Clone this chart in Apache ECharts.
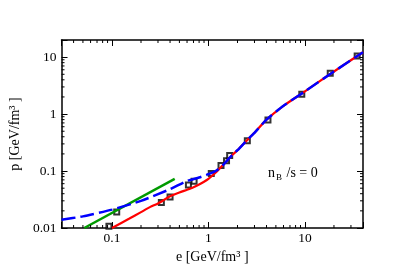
<!DOCTYPE html>
<html><head><meta charset="utf-8">
<script src="https://cdn.jsdelivr.net/npm/echarts@6/dist/echarts.min.js"></script>
<style>html,body{margin:0;padding:0;background:#fff}#c{width:414px;height:273px}</style>
</head><body><div id="c"></div>
<script>
// lattice EoS (red solid)
const redE = [0.1,0.15,0.2,0.25,0.3,0.4,0.5,0.6,0.7,0.8,0.9,1.0,1.2,1.4,1.6,1.8,2.0,2.5,3,4,6,10,20,40];
const redP = [0.0100,0.0145,0.019,0.0235,0.027,0.036,0.042,0.047,0.052,0.058,0.065,0.073,0.095,0.125,0.16,0.197,0.232,0.345,0.47,0.80,1.40,2.50,5.6,12.2];
// blue dashed
const blueE = [0.03,0.05,0.1,0.2,0.4,0.6,0.8,1.0,1.2,1.4,1.6,1.8,2.0,2.5,3,4,6,10,20,40];
const blueP = [0.014,0.016,0.021,0.030,0.048,0.067,0.077,0.088,0.101,0.125,0.16,0.197,0.232,0.345,0.47,0.80,1.40,2.50,5.6,12.2];
// green straight line
const greenE = [0.0516,0.447];
const greenP = [0.0100,0.073];
// squares
const sqE = [0.093,0.112,0.325,0.40,0.62,0.71,1.07,1.35,1.54,1.66,2.53,4.14,9.28,18.3,34.8];
const sqP = [0.0107,0.019,0.028,0.035,0.057,0.066,0.091,0.125,0.152,0.188,0.34,0.79,2.24,5.2,10.5];
// axes
const xMin = 0.03, xMax = 40, yMin = 0.01, yMax = 20;
const tickLabels = {'-2':'0.01','-1':'0.1','0':'1','1':'10'};
const xMinor = [0.04,0.05,0.06,0.07,0.08,0.09,0.2,0.3,0.4,0.5,0.6,0.7,0.8,0.9,2,3,4,5,6,7,8,9,20,30];
const yMinor = [0.02,0.03,0.04,0.05,0.06,0.07,0.08,0.09,0.2,0.3,0.4,0.5,0.6,0.7,0.8,0.9,2,3,4,5,6,7,8,9];

const FONT = '"Liberation Serif","DejaVu Serif",serif';
const zip = (a,b)=>a.map((v,i)=>[v,b[i]]);
function fmt(v){const l=Math.log10(v);const r=Math.round(l);return Math.abs(l-r)<1e-6 && tickLabels[String(r)]!==undefined ? tickLabels[String(r)] : '';}
const axisCommon = {
  type:'log', logBase:10, splitNumber:3,
  axisLine:{show:true,onZero:false,lineStyle:{color:'#000',width:1.5}},
  axisTick:{show:true,inside:true,length:6,lineStyle:{color:'#000',width:1}},
  splitLine:{show:false}, minorTick:{show:false}
};
const chart = echarts.init(document.getElementById('c'),null,{renderer:'canvas'});
chart.setOption({
  animation:false,
  grid:{left:47,right:51,top:40,bottom:45,containLabel:false},
  xAxis:[
    Object.assign({},axisCommon,{min:xMin,max:xMax,position:'bottom',
      name:'e [GeV/fm³ ]',nameLocation:'middle',nameGap:13,
      nameTextStyle:{fontFamily:FONT,fontSize:14,color:'#000'},
      axisLabel:{formatter:fmt,margin:3,fontFamily:FONT,fontSize:13.5,color:'#000'}}),
    Object.assign({},axisCommon,{min:xMin,max:xMax,position:'top',axisLabel:{show:false}})
  ],
  yAxis:[
    Object.assign({},axisCommon,{min:yMin,max:yMax,position:'left',
      name:'p [GeV/fm³ ]',nameLocation:'middle',nameGap:26,nameRotate:90,
      nameTextStyle:{fontFamily:FONT,fontSize:14,color:'#000'},
      axisLabel:{formatter:fmt,margin:5,fontFamily:FONT,fontSize:13.5,color:'#000'}}),
    Object.assign({},axisCommon,{min:yMin,max:yMax,position:'right',axisLabel:{show:false}})
  ],
  graphic:[{type:'text',left:268,top:166,z:100,style:{
    text:'{n|n}{b|B}{n| /s = 0}',
    rich:{n:{fontFamily:FONT,fontSize:14,fill:'#000',lineHeight:18,verticalAlign:'middle'},
          b:{fontFamily:FONT,fontSize:9,fill:'#000',lineHeight:18,verticalAlign:'bottom',padding:[6,1,0,1]}}
  }}],
  series:[
    {type:'custom',xAxisIndex:0,yAxisIndex:0,silent:true,z:5,data:xMinor.map(v=>[v,yMin]),
     renderItem:(params,api)=>{const cs=params.coordSys;const px=api.coord([api.value(0),yMin])[0];
       return {type:'group',children:[
        {type:'line',shape:{x1:px,y1:cs.y+cs.height,x2:px,y2:cs.y+cs.height-3},style:{stroke:'#000',lineWidth:1}},
        {type:'line',shape:{x1:px,y1:cs.y,x2:px,y2:cs.y+3},style:{stroke:'#000',lineWidth:1}}]};}},
    {type:'custom',xAxisIndex:0,yAxisIndex:0,silent:true,z:5,data:yMinor.map(v=>[xMin,v]),
     renderItem:(params,api)=>{const cs=params.coordSys;const py=api.coord([xMin,api.value(1)])[1];
       return {type:'group',children:[
        {type:'line',shape:{x1:cs.x,y1:py,x2:cs.x+3,y2:py},style:{stroke:'#000',lineWidth:1}},
        {type:'line',shape:{x1:cs.x+cs.width,y1:py,x2:cs.x+cs.width-3,y2:py},style:{stroke:'#000',lineWidth:1}}]};}},
    {type:'scatter',data:zip(sqE,sqP),symbol:'rect',symbolSize:5,z:2,
     itemStyle:{color:'#fff',borderColor:'#000',borderWidth:2}},
    {type:'line',data:zip(redE,redP),smooth:0.2,showSymbol:false,z:3,
     lineStyle:{color:'#ff0000',width:2.2}},
    {type:'line',data:zip(greenE,greenP),showSymbol:false,z:3,
     lineStyle:{color:'#009a00',width:2.5}},
    {type:'line',data:zip(blueE,blueP),smooth:0.2,showSymbol:false,z:4,
     lineStyle:{color:'#0000ff',width:2.5,type:[14,5]}}
  ]
});
</script></body></html>
